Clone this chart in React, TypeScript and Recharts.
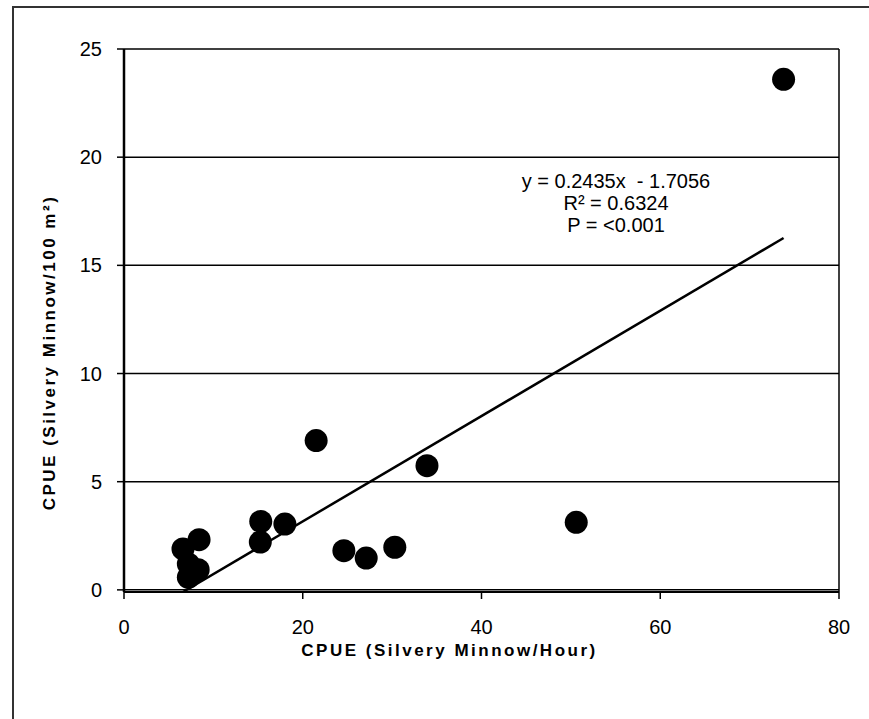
import { CartesianGrid, ReferenceLine, Scatter, ScatterChart, XAxis, YAxis } from 'recharts';

// CPUE per hour (x) vs CPUE per 100 m² (y), one entry per site
const perHour = [73.8, 21.5, 33.9, 50.6, 30.3, 15.3, 18.0, 15.25, 24.6, 27.1, 8.4, 6.6, 7.2, 8.3, 7.2];
const perArea = [23.6, 6.9, 5.74, 3.12, 1.97, 3.16, 3.04, 2.21, 1.81, 1.47, 2.32, 1.89, 1.2, 0.93, 0.58];

const xTicks = [0, 20, 40, 60, 80];
const yTicks = [0, 5, 10, 15, 20, 25];

// linear fit reported on the chart
const slope = 0.2435;
const intercept = -1.7056;
const fitLabel = ['y = 0.2435x  - 1.7056', 'R² = 0.6324', 'P = <0.001'];

const points = perHour.map((x, i) => ({ x, y: perArea[i] }));
const xMin = Math.min(...perHour);
const xMax = Math.max(...perHour);
const fitLine = [xMin, xMax].map((x) => ({ x, y: slope * x + intercept }));

const font = 'Arial, "Liberation Sans", sans-serif';
const tick = { fontSize: 20, fill: '#000', fontFamily: font };
const title = { fontSize: 17, fontWeight: 700, fill: '#000', fontFamily: font, letterSpacing: '2.5px' };

const Dot = (p: any) => <circle cx={p.cx} cy={p.cy} r={11.5} fill="#000" />;

export default function App() {
  return (
    <div style={{ position: 'absolute', left: 0, top: 0, width: 869, height: 719, background: '#fff', overflow: 'hidden' }}>
      <div style={{ position: 'absolute', left: 12, top: 6, width: 900, height: 760, border: '2px solid #333' }} />
      <ScatterChart width={869} height={719} margin={{ top: 49, right: 30, bottom: 87, left: 64 }}>
        <CartesianGrid horizontal vertical={false} stroke="#000" strokeWidth={1.5} strokeOpacity={1} />
        <XAxis
          type="number" dataKey="x" domain={[0, 80]} ticks={xTicks} height={40}
          tick={tick} tickSize={7} tickMargin={21}
          axisLine={{ stroke: '#000', strokeWidth: 2 }} tickLine={{ stroke: '#000', strokeWidth: 1.5 }}
          label={{ value: 'CPUE (Silvery Minnow/Hour)', position: 'insideBottom', offset: -24, dx: -32, style: title }}
        />
        <YAxis
          type="number" dataKey="y" domain={[0, 25]} ticks={yTicks} width={60}
          tick={tick} tickSize={7} tickMargin={15}
          axisLine={{ stroke: '#000', strokeWidth: 2.5 }} tickLine={{ stroke: '#000', strokeWidth: 1.5 }}
          label={{ value: 'CPUE (Silvery Minnow/100 m²)', angle: -90, position: 'insideLeft', offset: -15, dy: 32, style: { ...title, textAnchor: 'middle' } }}
        />
        <ReferenceLine x={80} stroke="#000" strokeWidth={1.5} />
        <Scatter data={fitLine} line={{ stroke: '#000', strokeWidth: 2.5 }} shape={() => null} isAnimationActive={false} />
        <Scatter data={points} shape={Dot} isAnimationActive={false} />
      </ScatterChart>
      {fitLabel.map((t, i) => (
        <div key={t} style={{ position: 'absolute', left: 516, width: 200, top: 170 + i * 22, textAlign: 'center', fontFamily: font, fontSize: 20, lineHeight: '22px', color: '#000', whiteSpace: 'pre' }}>
          {t}
        </div>
      ))}
    </div>
  );
}
